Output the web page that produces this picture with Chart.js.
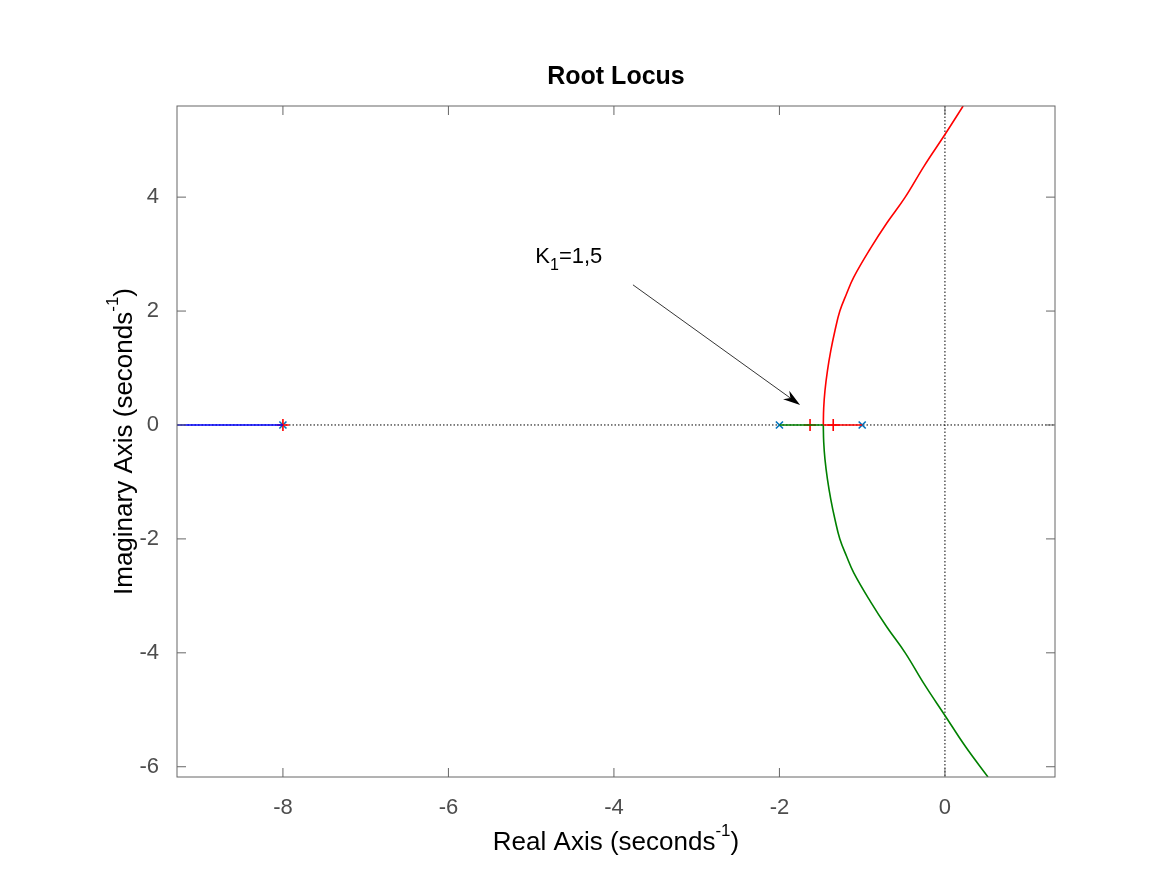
<!DOCTYPE html>
<html><head><meta charset="utf-8">
<script src="https://cdn.jsdelivr.net/npm/chart.js@4/dist/chart.umd.min.js"></script>
<style>body{margin:0;background:#fff}canvas{display:block}</style>
</head><body>
<canvas id="c" width="1167" height="875"></canvas>
<script>
// axis ranges and ticks
const xRange = [-9.28, 1.33];
const yRange = [-6.18, 5.6];
const xTicks = [-8, -6, -4, -2, 0];
const yTicks = [-6, -4, -2, 0, 2, 4];

// branches
const upperX = [-1.47, -1.465, -1.45, -1.42, -1.38, -1.33, -1.27, -1.19, -1.1, -0.9, -0.7, -0.48, -0.25, 0, 0.22];
const upperY = [0, 0.3, 0.6, 0.95, 1.3, 1.65, 2.0, 2.3, 2.6, 3.1, 3.55, 4.0, 4.55, 5.1, 5.6];
const lowerX = [-1.47, -1.465, -1.45, -1.42, -1.38, -1.33, -1.27, -1.19, -1.1, -0.9, -0.7, -0.48, -0.25, 0, 0.25, 0.52];
const lowerY = [0, -0.3, -0.6, -0.95, -1.3, -1.65, -2.0, -2.3, -2.6, -3.1, -3.55, -4.0, -4.55, -5.1, -5.65, -6.18];
const blueX = [-9.28, -8];
const greenAxisX = [-2, -1.47];
const redAxisX = [-1, -1.47];
const poles = [-8, -2, -1];
const gainMarks = [-8, -1.63, -1.35];

// annotation
const annoText = [-4.95, 2.95];
const arrowFrom = [-3.77, 2.46];
const arrowTo = [-1.75, 0.35];

const zip = (xs, ys) => xs.map((x, i) => ({x, y: ys[i]}));
const onAxis = xs => xs.map(x => ({x, y: 0}));
const FONT = '"Liberation Sans", Arial, sans-serif';
const GRAY = '#4d4d4d';

const line = (data, color, tension = 0) => ({data, borderColor: color, borderWidth: 1.6, showLine: true, pointRadius: 0, fill: false, tension});

const decor = {
  id: 'decor',
  beforeDatasetsDraw(chart) {
    const {ctx, chartArea: a, scales: {x, y}} = chart;
    ctx.save();
    ctx.strokeStyle = '#000'; ctx.lineWidth = 1; ctx.setLineDash([1.5, 2]);
    ctx.beginPath();
    ctx.moveTo(a.left, y.getPixelForValue(0)); ctx.lineTo(a.right, y.getPixelForValue(0));
    ctx.moveTo(x.getPixelForValue(0), a.top); ctx.lineTo(x.getPixelForValue(0), a.bottom);
    ctx.stroke();
    ctx.restore();
  },
  afterDraw(chart) {
    const {ctx, chartArea: a, scales: {x, y}} = chart;
    ctx.save();
    // box and inward ticks
    ctx.strokeStyle = '#666'; ctx.lineWidth = 1;
    ctx.strokeRect(a.left, a.top, a.right - a.left, a.bottom - a.top);
    ctx.beginPath();
    xTicks.forEach(v => { const p = x.getPixelForValue(v);
      ctx.moveTo(p, a.bottom); ctx.lineTo(p, a.bottom - 9); ctx.moveTo(p, a.top); ctx.lineTo(p, a.top + 9); });
    yTicks.forEach(v => { const p = y.getPixelForValue(v);
      ctx.moveTo(a.left, p); ctx.lineTo(a.left + 9, p); ctx.moveTo(a.right, p); ctx.lineTo(a.right - 9, p); });
    ctx.stroke();

    // title
    ctx.fillStyle = '#000';
    ctx.textAlign = 'center'; ctx.textBaseline = 'middle';
    ctx.font = 'bold 25px ' + FONT;
    ctx.fillText('Root Locus', (a.left + a.right) / 2, 77);

    // x label with superscript
    const BF = '26px ' + FONT, sf = '17px ' + FONT;
    ctx.font = BF;
    const xl1 = 'Real Axis (seconds', sup = '-1', xl2 = ')';
    ctx.textAlign = 'left';
    const w1 = ctx.measureText(xl1).width, w3 = ctx.measureText(xl2).width;
    ctx.font = sf; const w2 = ctx.measureText(sup).width;
    let sx = (a.left + a.right) / 2 - (w1 + w2 + w3) / 2, by = 843;
    ctx.font = BF; ctx.fillText(xl1, sx, by);
    ctx.font = sf; ctx.fillText(sup, sx + w1, by - 12);
    ctx.font = BF; ctx.fillText(xl2, sx + w1 + w2, by);

    // y label rotated
    ctx.translate(125, (a.top + a.bottom) / 2);
    ctx.rotate(-Math.PI / 2);
    const yl1 = 'Imaginary Axis (seconds';
    ctx.font = BF; const v1 = ctx.measureText(yl1).width;
    sx = -(v1 + w2 + w3) / 2;
    ctx.fillText(yl1, sx, 0);
    ctx.font = sf; ctx.fillText(sup, sx + v1, -12);
    ctx.font = BF; ctx.fillText(xl2, sx + v1 + w2, 0);
    ctx.setTransform(1, 0, 0, 1, 0, 0);

    // annotation
    const tx = x.getPixelForValue(annoText[0]), ty = y.getPixelForValue(annoText[1]);
    ctx.textBaseline = 'middle';
    ctx.font = '22px ' + FONT; ctx.fillText('K', tx, ty);
    const kw = ctx.measureText('K').width;
    ctx.font = '16px ' + FONT; ctx.fillText('1', tx + kw, ty + 9);
    const ow = ctx.measureText('1').width;
    ctx.font = '22px ' + FONT; ctx.fillText('=1,5', tx + kw + ow, ty);

    const x0 = x.getPixelForValue(arrowFrom[0]), y0 = y.getPixelForValue(arrowFrom[1]);
    const x1 = x.getPixelForValue(arrowTo[0]), y1 = y.getPixelForValue(arrowTo[1]);
    const ang = Math.atan2(y1 - y0, x1 - x0);
    ctx.strokeStyle = '#000'; ctx.lineWidth = 0.8;
    ctx.beginPath(); ctx.moveTo(x0, y0); ctx.lineTo(x1 - 12 * Math.cos(ang), y1 - 12 * Math.sin(ang)); ctx.stroke();
    ctx.fillStyle = '#000';
    ctx.beginPath();
    ctx.moveTo(x1, y1);
    ctx.lineTo(x1 - 18 * Math.cos(ang - 0.3), y1 - 18 * Math.sin(ang - 0.3));
    ctx.lineTo(x1 - 12 * Math.cos(ang), y1 - 12 * Math.sin(ang));
    ctx.lineTo(x1 - 18 * Math.cos(ang + 0.3), y1 - 18 * Math.sin(ang + 0.3));
    ctx.closePath(); ctx.fill();
    ctx.restore();
  }
};

new Chart(document.getElementById('c'), {
  type: 'scatter',
  data: {
    datasets: [
      line(onAxis(blueX), '#0000ff'),
      line(onAxis(greenAxisX), '#008000'),
      line(onAxis(redAxisX), '#ff0000'),
      line(zip(upperX, upperY), '#ff0000', 0.4),
      line(zip(lowerX, lowerY), '#008000', 0.4),
      {data: onAxis(gainMarks), pointStyle: 'cross', pointRadius: 6, borderColor: '#ff0000', borderWidth: 1.6, backgroundColor: '#ff0000'},
      {data: onAxis(poles), pointStyle: 'crossRot', pointRadius: 5, borderColor: '#0072BD', borderWidth: 1.6}
    ]
  },
  options: {
    responsive: false, animation: false,
    layout: {padding: {top: 106, right: 112, left: 0, bottom: 0}},
    plugins: {legend: {display: false}, tooltip: {enabled: false}},
    scales: {
      x: {
        min: xRange[0], max: xRange[1],
        afterFit: s => { s.height = 98; },
        afterBuildTicks: s => { s.ticks = xTicks.map(v => ({value: v})); },
        grid: {display: false}, border: {display: false},
        ticks: {color: GRAY, font: {family: FONT, size: 22}, padding: 10, maxRotation: 0}
      },
      y: {
        min: yRange[0], max: yRange[1],
        afterFit: s => { s.width = 177; },
        afterBuildTicks: s => { s.ticks = yTicks.map(v => ({value: v})); },
        grid: {display: false}, border: {display: false},
        ticks: {color: GRAY, font: {family: FONT, size: 22}, padding: 10}
      }
    }
  },
  plugins: [decor]
});
</script>
</body></html>
